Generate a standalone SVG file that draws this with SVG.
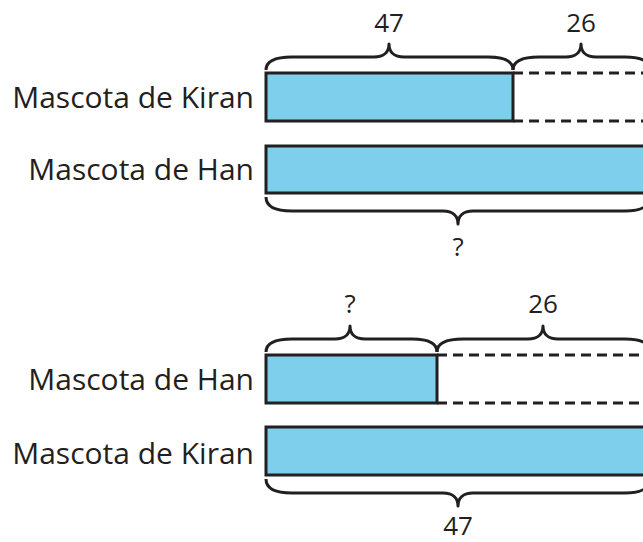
<svg xmlns="http://www.w3.org/2000/svg" width="643" height="542" viewBox="0 0 643 542">
<style>
.lbl{font-family:"Open Sans","Noto Sans",sans-serif;font-size:30px;fill:#231f20;text-anchor:end}
.num{font-family:"Open Sans","Noto Sans",sans-serif;font-size:26px;fill:#231f20;text-anchor:middle}
.bar{fill:#7ecfeb;stroke:#231f20;stroke-width:3}
.dash{stroke:#231f20;stroke-width:3;stroke-dasharray:10 6;fill:none}
.brace{fill:none;stroke:#231f20;stroke-width:3;stroke-linejoin:round}
</style>
<rect width="643" height="542" fill="#fff"/>
<g id="top-kiran">
<text class="lbl" x="254" y="108">Mascota de Kiran</text>
<rect class="bar" x="266" y="73" width="247" height="48"/>
</g>
<g id="top-han">
<text class="lbl" x="254" y="180">Mascota de Han</text>
<rect class="bar" x="266" y="146" width="385" height="47"/>
</g>
<g id="bottom-han">
<text class="lbl" x="254" y="390">Mascota de Han</text>
<rect class="bar" x="266" y="355" width="171" height="48"/>
</g>
<g id="bottom-kiran">
<text class="lbl" x="254" y="464">Mascota de Kiran</text>
<rect class="bar" x="266" y="427" width="385" height="48"/>
</g>
<g id="connectors">
<path class="dash" d="M513,73 H645 M513,121 H645"/>
<path class="dash" d="M437,355 H645 M437,403 H645"/>
<path class="brace" d="M266,70 C266,61 275,57 292,57 L374,57 C384,57 389,52 389,44 C389,52 394,57 404,57 L488,57 C504,57 513,61 513,70"/>
<path class="brace" d="M513,70 C513,61 522,57 539,57 L566,57 C576,57 581,52 581,44 C581,52 586,57 596,57 L625,57 C641,57 650,61 650,70"/>
<path class="brace" d="M266,197 C266,206 275,211 292,211 L443,211 C453,211 458,216 458,224 C458,216 463,211 473,211 L625,211 C641,211 650,206 650,197"/>
<path class="brace" d="M266,352 C266,343 275,339 292,339 L335,339 C345,339 350,334 350,326 C350,334 355,339 365,339 L412,339 C428,339 437,343 437,352"/>
<path class="brace" d="M437,352 C437,343 446,339 463,339 L528,339 C538,339 543,334 543,326 C543,334 548,339 558,339 L625,339 C641,339 650,343 650,352"/>
<path class="brace" d="M266,479 C266,488 275,493 292,493 L443,493 C453,493 458,498 458,506 C458,498 463,493 473,493 L625,493 C641,493 650,488 650,479"/>
</g>
<g id="labels">
<text class="num" x="389" y="32">47</text>
<text class="num" x="581" y="32">26</text>
<text class="num" x="458" y="256">?</text>
<text class="num" x="350" y="313">?</text>
<text class="num" x="543" y="313">26</text>
<text class="num" x="458" y="535">47</text>
</g>
</svg>
